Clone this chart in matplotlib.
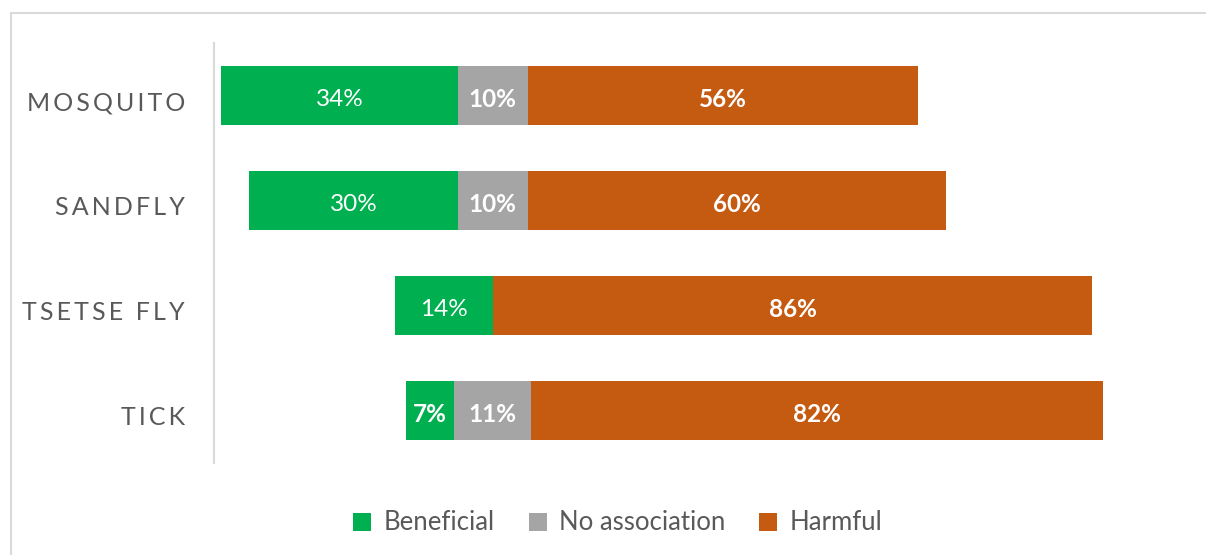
import matplotlib
matplotlib.use("Agg")
import matplotlib.pyplot as plt
from matplotlib.patches import Rectangle, Patch
import numpy as np

plt.rcParams['font.family'] = ['Lato', 'DejaVu Sans']

# data (percent)
vectors = ["MOSQUITO", "SANDFLY", "TSETSE FLY", "TICK"]
beneficial = [34, 30, 14, 7]
no_association = [10, 10, 0, 11]
harmful = [56, 60, 86, 82]
series_names = ["Beneficial", "No association", "Harmful"]
bold_label = {"Beneficial": [False, False, False, True],
              "No association": [True, True, True, True],
              "Harmful": [True, True, True, True]}

colors = ["#00B050", "#A5A5A5", "#C55A11"]
text_grey = "#595959"

fig = plt.figure(figsize=(12.06, 5.55), dpi=100)
ax = fig.add_axes([214 / 1206, 1 - 463 / 555, (1190 - 214) / 1206, 420 / 555])

# chart border like the spreadsheet chart frame
fig.patches.append(Rectangle((11 / 1206, -0.1), 1.2, 1 - 13.5 / 555 + 0.1,
                             transform=fig.transFigure, fill=False,
                             edgecolor="#D9D9D9", linewidth=1.5))

ben = np.array(beneficial, dtype=float)
na = np.array(no_association, dtype=float)
harm = np.array(harmful, dtype=float)

# centre every bar on the middle of the "no association" part
mid = ben + na / 2
offset = mid.max() - mid

y = np.arange(len(vectors))
h = 0.56
left = offset.copy()
for name, vals, col in zip(series_names, [ben, na, harm], colors):
    ax.barh(y, vals, left=left, height=h, color=col, label=name)
    for i, v in enumerate(vals):
        if v > 0:
            ax.text(left[i] + v / 2, y[i] + 0.04, f"{int(v)}%", ha="center", va="center",
                    color="white", fontsize=17.5,
                    fontweight="bold" if bold_label[name][i] else "normal")
    left = left + vals

ax.set_xlim(-1, (1190 - 221) / 6.97)
ax.set_ylim(3.5, -0.5)
ax.set_yticks(y + 0.05)
ax.set_yticklabels(["\u2009".join(v) for v in vectors], fontsize=18, color=text_grey)
ax.tick_params(axis="y", length=0, pad=21)
ax.set_xticks([])
for s in ["top", "right", "bottom"]:
    ax.spines[s].set_visible(False)
ax.spines["left"].set_color("#D9D9D9")
ax.spines["left"].set_linewidth(1.5)

handles = [Patch(facecolor=c, edgecolor="none") for c in colors]
fig.legend(handles, series_names, loc="center", bbox_to_anchor=(618 / 1206, 1 - 523 / 555),
           ncol=3, frameon=False, fontsize=18.5, labelcolor=text_grey,
           handlelength=0.7, handleheight=0.7, handletextpad=0.5, columnspacing=1.3)

fig.savefig("out.png", dpi=100)
